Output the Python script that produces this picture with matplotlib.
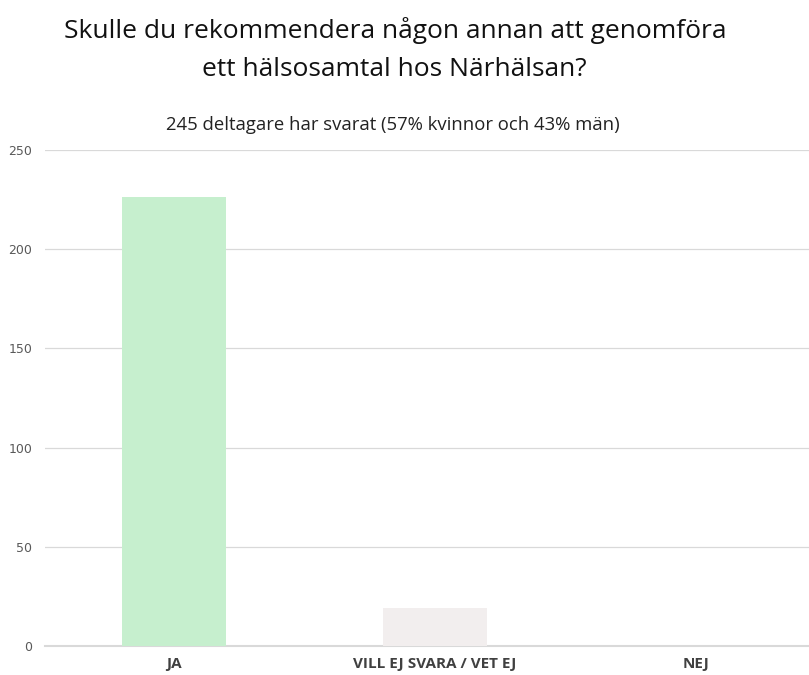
import matplotlib.pyplot as plt

# Data
kategorier = ["JA", "VILL EJ SVARA / VET EJ", "NEJ"]
antal = [226, 19, 0]
farger = ["#c6efce", "#f2eeee", "#f2eeee"]
y_ticks = [0, 50, 100, 150, 200, 250]

fig = plt.figure(figsize=(8.09, 6.75), dpi=100)
ax = fig.add_axes([0.0556, 0.043, 0.9444, 0.735])

x = range(len(kategorier))
ax.bar(x, antal, width=0.4, color=farger, zorder=3)

ax.set_xlim(-0.494, 2.433)
ax.set_ylim(0, 250)
ax.set_yticks(y_ticks)
ax.set_xticks(list(x))
ax.set_xticklabels(kategorier, fontsize=11, fontweight="bold", color="#404040",
                   family=["Open Sans", "DejaVu Sans"])
ax.tick_params(axis="y", length=0, labelsize=9, labelcolor="#595959", pad=9)
ax.tick_params(axis="x", length=0, pad=8)

ax.grid(axis="y", color="#d9d9d9", linewidth=0.9, zorder=0)
for s in ["left", "right", "top"]:
    ax.spines[s].set_visible(False)
ax.spines["bottom"].set_color("#d9d9d9")
ax.spines["bottom"].set_linewidth(1.5)

fig.text(0.488, 0.927, "Skulle du rekommendera någon annan att genomföra\nett hälsosamtal hos Närhälsan?",
         ha="center", va="center", fontsize=19, color="#111111",
         family=["Open Sans", "DejaVu Sans"], linespacing=1.7)
fig.text(0.486, 0.815, "245 deltagare har svarat (57% kvinnor och 43% män)",
         ha="center", va="center", fontsize=13.3, color="#222222",
         family=["Open Sans", "DejaVu Sans"])

fig.savefig("out.png", dpi=100)
